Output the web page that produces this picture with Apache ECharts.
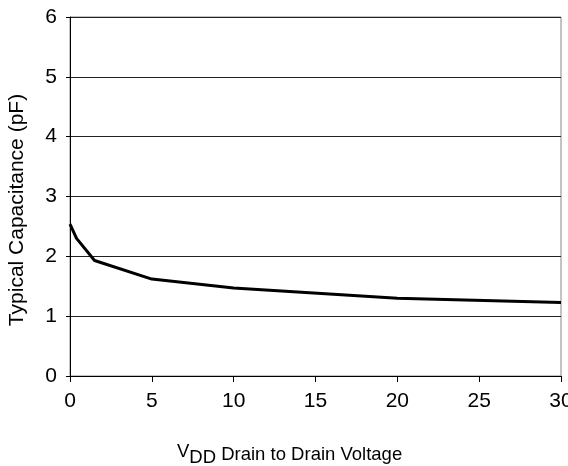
<!DOCTYPE html>
<html><head><meta charset="utf-8">
<script src="https://cdn.jsdelivr.net/npm/echarts@6/dist/echarts.min.js"></script>
<style>html,body{margin:0;padding:0;background:#fff}#c{width:568px;height:466px}</style>
</head><body><div id="c"></div>
<script>
var xValues = [0, 0.4, 1.5, 5, 10, 20, 30];
var capacitance = [2.54, 2.30, 1.93, 1.62, 1.47, 1.30, 1.23];
var xTicks = [0, 5, 10, 15, 20, 25, 30];
var yTicks = [0, 1, 2, 3, 4, 5, 6];

var chart = echarts.init(document.getElementById('c'));
var font = 'Liberation Sans, Arial, sans-serif';
chart.setOption({
  animation: false,
  grid: {left: 70, right: 7, top: 17, bottom: 90, show: true, borderColor: '#888', borderWidth: 1,
         containLabel: false, outerBoundsMode: 'none'},
  xAxis: {
    type: 'value', min: xTicks[0], max: xTicks[xTicks.length - 1], interval: xTicks[1] - xTicks[0],
    axisLine: {lineStyle: {color: '#000', width: 1}},
    axisTick: {show: true, length: 6, lineStyle: {color: '#000'}},
    axisLabel: {color: '#000', fontSize: 21, fontFamily: font, margin: 15, hideOverlap: false},
    splitLine: {show: false}
  },
  yAxis: {
    type: 'value', min: yTicks[0], max: yTicks[yTicks.length - 1], interval: yTicks[1] - yTicks[0],
    axisLine: {show: true, lineStyle: {color: '#000', width: 1}},
    axisTick: {show: true, length: 4, lineStyle: {color: '#000'}},
    axisLabel: {color: '#000', fontSize: 21, fontFamily: font, margin: 13},
    splitLine: {show: true, lineStyle: {color: '#222', width: 1}}
  },
  graphic: [{
    type: 'text', x: 17, y: 210, rotation: Math.PI / 2,
    style: {
      text: 'Typical Capacitance (pF)', fontSize: 21, fontFamily: font, fill: '#000',
      align: 'center', verticalAlign: 'middle'
    }
  }, {
    type: 'text', x: 177, y: 455,
    style: {
      text: '{v|V}{s|DD}{m| Drain to Drain Voltage}',
      align: 'left', verticalAlign: 'middle',
      rich: {
        v: {fontSize: 18.5, fontFamily: font, fill: '#000', lineHeight: 19, verticalAlign: 'top'},
        s: {fontSize: 18.5, fontFamily: font, fill: '#000', lineHeight: 19, verticalAlign: 'bottom'},
        m: {fontSize: 18.5, fontFamily: font, fill: '#000', lineHeight: 25, verticalAlign: 'middle'}
      }
    }
  }],
  series: [{
    type: 'line',
    data: xValues.map(function (x, i) { return [x, capacitance[i]]; }),
    showSymbol: false,
    lineStyle: {color: '#000', width: 3},
    smooth: false
  }]
});
</script></body></html>
